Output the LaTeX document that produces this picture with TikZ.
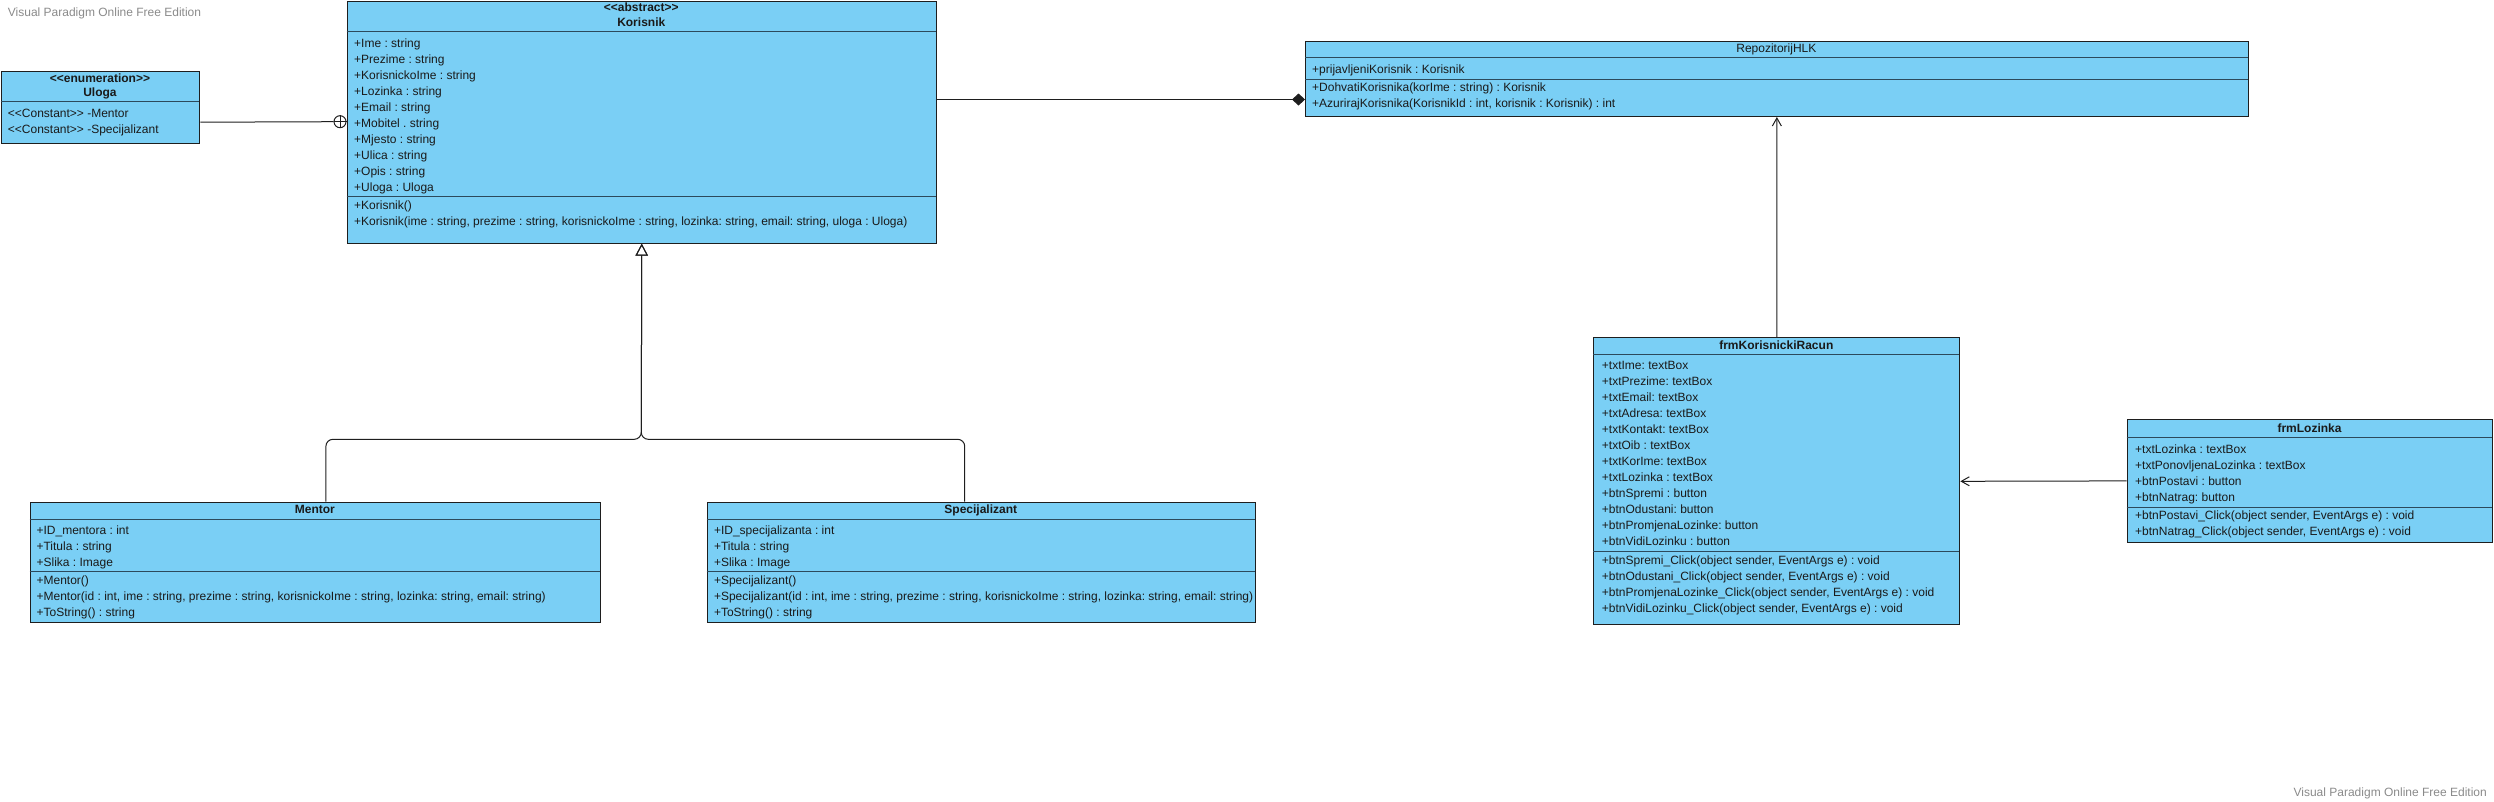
\documentclass[tikz,border=0pt]{standalone}
\usepackage{fontspec}
\setmainfont{Liberation Sans}
\usepackage{tikz}
\usetikzlibrary{arrows.meta, positioning}
\usepackage{xcolor}
\definecolor{umlfill}{HTML}{7ACFF5}
\definecolor{umlline}{HTML}{1E1E1E}
\definecolor{umlsep}{HTML}{2C4A5C}
\definecolor{umltext}{HTML}{1A1A1A}
\definecolor{vpgray}{HTML}{8A8A8A}
\frenchspacing

\begin{document}
\begin{tikzpicture}[x=1pt, y=-1pt,
        cls/.style={draw=umlline, fill=umlfill, line width=1pt, inner sep=0pt, anchor=north west},
        sep/.style={draw=umlsep, line width=1pt},
        row/.style={font=\fontsize{12}{16}\selectfont\frenchspacing, text=umltext, inner sep=0pt, align=left, anchor=north west},
        head/.style={row, font=\fontsize{12}{16}\selectfont\bfseries, align=center, anchor=north},
        link/.style={draw=umlline, line width=1pt},
        vpnote/.style={font=\fontsize{12}{16}\selectfont, text=vpgray, inner sep=0pt}]
        \useasboundingbox (0,0) rectangle (2494,801);

        \node[vpnote, anchor=base west] (vptop) at (7.7,16) {Visual Paradigm Online Free Edition};
        \node[vpnote, anchor=base east] (vpbottom) at (2487,796) {Visual Paradigm Online Free Edition};

        % Uloga
        \node[cls, minimum width=198.9pt, minimum height=72.6pt] (uloga) at (0.5,70.7) {};
        \draw[sep] (0.5,101.3) -- (199.4,101.3);
        \node[head] (ulogahead) at (100,70.8) {\strut<{}<enumeration>{}>\\[-2pt]Uloga};
        \node[row] (ulogaattr) at (7.7,105.8) {\strut<{}<Constant>{}> -Mentor\\<{}<Constant>{}> -Specijalizant};

        % Korisnik
        \node[cls, minimum width=589.5pt, minimum height=242.2pt] (korisnik) at (346.5,0.5) {};
        \draw[sep] (346.5,31.7) -- (936,31.7);
        \draw[sep] (346.5,196.7) -- (936,196.7);
        \node[head] (korisnikhead) at (641.25,0.4) {\strut<{}<abstract>{}>\\[-1.6pt]Korisnik};
        \node[row] (korisnikattr) at (354,35.8) {\strut+Ime : string\\+Prezime : string\\+KorisnickoIme : string\\+Lozinka : string\\+Email : string\\+Mobitel . string\\+Mjesto : string\\+Ulica : string\\+Opis : string\\+Uloga : Uloga};
        \node[row] (korisnikops) at (354,197.8) {\strut+Korisnik()\\+Korisnik(ime : string, prezime : string, korisnickoIme : string, lozinka: string, email: string, uloga : Uloga)};

        % RepozitorijHLK
        \node[cls, minimum width=942.7pt, minimum height=75.3pt] (repo) at (1305,40.7) {};
        \draw[sep] (1305,57.7) -- (2247.7,57.7);
        \draw[sep] (1305,79) -- (2247.7,79);
        \node[head, font=\fontsize{12}{16}\selectfont] (repohead) at (1776.35,40.8) {\strut RepozitorijHLK};
        \node[row] (repoattr) at (1312,62.4) {\strut+prijavljeniKorisnik : Korisnik};
        \node[row] (repoops) at (1312,80.1) {\strut+DohvatiKorisnika(korIme : string) : Korisnik\\+AzurirajKorisnika(KorisnikId : int, korisnik : Korisnik) : int};

        % frmKorisnickiRacun
        \node[cls, minimum width=366pt, minimum height=287pt] (racun) at (1593.3,337.3) {};
        \draw[sep] (1593.3,354.3) -- (1959.3,354.3);
        \draw[sep] (1593.3,551) -- (1959.3,551);
        \node[head] (racunhead) at (1776.3,338.1) {\strut frmKorisnickiRacun};
        \node[row] (racunattr) at (1601.7,358.1) {\strut+txtIme: textBox\\+txtPrezime: textBox\\+txtEmail: textBox\\+txtAdresa: textBox\\+txtKontakt: textBox\\+txtOib : textBox\\+txtKorIme: textBox\\+txtLozinka : textBox\\+btnSpremi : button\\+btnOdustani: button\\+btnPromjenaLozinke: button\\+btnVidiLozinku : button};
        \node[row] (racunops) at (1601.7,553.1) {\strut+btnSpremi\_Click(object sender, EventArgs e) : void\\+btnOdustani\_Click(object sender, EventArgs e) : void\\+btnPromjenaLozinke\_Click(object sender, EventArgs e) : void\\+btnVidiLozinku\_Click(object sender, EventArgs e) : void};

        % frmLozinka
        \node[cls, minimum width=365.6pt, minimum height=122.2pt] (lozinka) at (2126.7,419.3) {};
        \draw[sep] (2126.7,437.7) -- (2492.3,437.7);
        \draw[sep] (2126.7,507) -- (2492.3,507);
        \node[head] (lozinkahead) at (2309.5,421.4) {\strut frmLozinka};
        \node[row] (lozinkaattr) at (2135,442.1) {\strut+txtLozinka : textBox\\+txtPonovljenaLozinka : textBox\\+btnPostavi : button\\+btnNatrag: button};
        \node[row] (lozinkaops) at (2135,508.1) {\strut+btnPostavi\_Click(object sender, EventArgs e) : void\\+btnNatrag\_Click(object sender, EventArgs e) : void};

        % Mentor
        \node[cls, minimum width=570.3pt, minimum height=120.3pt] (mentor) at (29.7,501.7) {};
        \draw[sep] (29.7,519.3) -- (600,519.3);
        \draw[sep] (29.7,571.7) -- (600,571.7);
        \node[head] (mentorhead) at (314.85,502.1) {\strut Mentor};
        \node[row] (mentorattr) at (36.4,523.1) {\strut+ID\_mentora : int\\+Titula : string\\+Slika : Image};
        \node[row] (mentorops) at (36.4,573.1) {\strut+Mentor()\\+Mentor(id : int, ime : string, prezime : string, korisnickoIme : string, lozinka: string, email: string)\\+ToString() : string};

        % Specijalizant
        \node[cls, minimum width=548.5pt, minimum height=120.6pt] (specijalizant) at (706.5,501.7) {};
        \draw[sep] (706.5,519.3) -- (1255,519.3);
        \draw[sep] (706.5,571.7) -- (1255,571.7);
        \node[head] (specijalizanthead) at (980.75,502.1) {\strut Specijalizant};
        \node[row] (specijalizantattr) at (713.8,523.1) {\strut+ID\_specijalizanta : int\\+Titula : string\\+Slika : Image};
        \node[row] (specijalizantops) at (713.8,573.1) {\strut+Specijalizant()\\+Specijalizant(id : int, ime : string, prezime : string, korisnickoIme : string, lozinka: string, email: string)\\+ToString() : string};

        % connectors
        \node[circle, draw=umlline, line width=1pt, fill=white, minimum size=12pt, inner sep=0pt] (nest) at (340,121.7) {};
        \draw[link] (nest.north) -- (nest.south) (nest.west) -- (nest.east);
        \draw[link] ([yshift=-14.7pt]uloga.east) -- (nest.west);

        \draw[link, -{Diamond[length=13pt,width=12pt]}] ([yshift=22.6pt]korisnik.east) -- ([yshift=-20.65pt]repo.west);
        \draw[link, -{Straight Barb[length=8pt,width=9pt]}] (racun.north) -- (repo.south);
        \draw[link, -{Straight Barb[length=8pt,width=9pt]}] (lozinka.west) -- (racun.east);

        \coordinate (genjoin) at (641.25,439.3);
        \draw[link, rounded corners=7pt, -{Triangle[open,length=12pt,width=12.5pt]}] ([xshift=10.55pt]mentor.north) |- (genjoin) -- (korisnik.south);
        \draw[link, rounded corners=7pt, -{Triangle[open,length=12pt,width=12.5pt]}] ([xshift=-16.55pt]specijalizant.north) |- (genjoin) -- (korisnik.south);
    \end{tikzpicture}
\end{document}
